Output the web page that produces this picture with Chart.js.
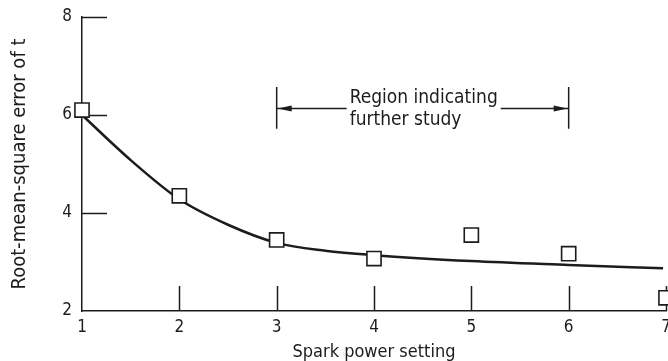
<!DOCTYPE html>
<html>
<head>
<meta charset="utf-8">
<script src="https://cdn.jsdelivr.net/npm/chart.js@4/dist/chart.umd.min.js"></script>
<style>
  html, body { margin: 0; padding: 0; background: #fff; }
  #wrap { width: 668px; height: 361px; }
</style>
</head>
<body>
<div id="wrap"><canvas id="chart"></canvas></div>
<script>
"use strict";

// measured points (open squares)
const SETTINGS = [1, 2, 3, 4, 5, 6, 7];
const RMS_ERROR = [6.1, 4.35, 3.45, 3.07, 3.55, 3.17, 2.27];

// faired curve
const FIT_X = [1, 1.5, 2, 2.5, 3, 3.5, 4, 5, 6, 6.97];
const FIT_Y = [6.0, 5.08, 4.28, 3.76, 3.39, 3.23, 3.14, 3.02, 2.94, 2.87];

const X_TICKS = [1, 2, 3, 4, 5, 6, 7];
const Y_TICKS = [2, 4, 6, 8];

// "region" bracket
const REGION_FROM = 3;
const REGION_TO = 6;
const REGION_AT = 6.15;
const REGION_BAR = [5.72, 6.57];
const REGION_TEXT_X = 3.75;
const REGION_LABEL = ["Region indicating", "further study"];

const X_TITLE = "Spark power setting";
const Y_TITLE = "Root-mean-square error of t";

const INK = "#1c1c1c";
const FONT = "'DejaVu Sans Condensed', 'Liberation Sans Narrow', 'DejaVu Sans', sans-serif";

Chart.defaults.font.family = FONT;
Chart.defaults.color = INK;

// tick marks pointing into the plot
const innerTicks = {
    id: "innerTicks",
    beforeDatasetsDraw(chart) {
        const { ctx, scales: { x, y } } = chart;
        const len = 25;
        ctx.save();
        ctx.strokeStyle = INK;
        ctx.lineWidth = 1.5;
        ctx.beginPath();
        for (const v of X_TICKS.slice(1)) {
            const px = Math.round(x.getPixelForValue(v)) + 0.5;
            ctx.moveTo(px, y.bottom);
            ctx.lineTo(px, y.bottom - len);
        }
        for (const v of Y_TICKS.slice(1)) {
            const py = Math.round(y.getPixelForValue(v)) + 0.5;
            ctx.moveTo(x.left, py);
            ctx.lineTo(x.left + len, py);
        }
        ctx.stroke();
        ctx.restore();
    }
};

function arrowHead(ctx, tipX, tipY, dir) {
    ctx.beginPath();
    ctx.moveTo(tipX, tipY);
    ctx.lineTo(tipX - dir * 14, tipY - 3);
    ctx.lineTo(tipX - dir * 14, tipY + 3);
    ctx.closePath();
    ctx.fill();
}

const regionNote = {
    id: "regionNote",
    afterDraw(chart) {
        const { ctx, scales: { x, y } } = chart;
        const x0 = x.getPixelForValue(REGION_FROM);
        const x1 = x.getPixelForValue(REGION_TO);
        const ay = Math.round(y.getPixelForValue(REGION_AT)) + 0.5;
        const b0 = y.getPixelForValue(REGION_BAR[0]);
        const b1 = y.getPixelForValue(REGION_BAR[1]);
        const tx = x.getPixelForValue(REGION_TEXT_X);

        ctx.save();
        ctx.strokeStyle = INK;
        ctx.fillStyle = INK;
        ctx.lineWidth = 1.5;
        ctx.font = "19px " + FONT;
        ctx.textBaseline = "alphabetic";
        ctx.fillText(REGION_LABEL[0], tx, ay - 6);
        ctx.fillText(REGION_LABEL[1], tx, ay + 16);
        const textRight = tx + ctx.measureText(REGION_LABEL[0]).width;

        ctx.beginPath();
        ctx.moveTo(x0, b0); ctx.lineTo(x0, b1);
        ctx.moveTo(x1, b0); ctx.lineTo(x1, b1);
        ctx.moveTo(x0, ay); ctx.lineTo(tx - 3, ay);
        ctx.moveTo(textRight + 3, ay); ctx.lineTo(x1, ay);
        ctx.stroke();
        arrowHead(ctx, x0 + 1, ay, -1);
        arrowHead(ctx, x1 - 1, ay, 1);
        ctx.restore();
    }
};

new Chart(document.getElementById("chart"), {
    type: "line",
    data: {
        datasets: [
            {
                label: "fit",
                data: FIT_X.map((v, i) => ({ x: v, y: FIT_Y[i] })),
                borderColor: INK,
                borderWidth: 2.5,
                pointRadius: 0,
                cubicInterpolationMode: "monotone",
                fill: false,
                order: 2
            },
            {
                label: "measured",
                data: SETTINGS.map((v, i) => ({ x: v, y: RMS_ERROR[i] })),
                showLine: false,
                pointStyle: "rect",
                pointRadius: 10,
                pointBorderWidth: 1.6,
                pointBorderColor: INK,
                pointBackgroundColor: "#fff",
                clip: false,
                order: 1
            }
        ]
    },
    options: {
        responsive: true,
        maintainAspectRatio: false,
        animation: false,
        events: [],
        layout: { autoPadding: false, padding: { top: 17, right: 2, left: 0, bottom: 0 } },
        plugins: { legend: { display: false }, tooltip: { enabled: false } },
        scales: {
            x: {
                type: "linear",
                min: 1, max: 7,
                afterBuildTicks: s => { s.ticks = X_TICKS.map(v => ({ value: v })); },
                afterFit: s => { s.height = 50; s.paddingLeft = 0; s.paddingRight = 0; },
                grid: { display: false, drawTicks: false },
                border: { display: true, color: INK, width: 1.5 },
                ticks: { padding: 6, font: { size: 17 }, color: INK, maxRotation: 0 },
                title: { display: true, text: X_TITLE, font: { size: 18 }, color: INK,
                         padding: { top: 0, bottom: -2 } }
            },
            y: {
                type: "linear",
                min: 2, max: 8,
                afterBuildTicks: s => { s.ticks = Y_TICKS.map(v => ({ value: v })); },
                afterFit: s => { s.width = 82; s.paddingTop = 0; s.paddingBottom = 0; },
                grid: { display: false, drawTicks: false },
                border: { display: true, color: INK, width: 1.5 },
                ticks: { padding: 10, font: { size: 17 }, color: INK },
                title: { display: true, text: Y_TITLE, font: { size: 20 }, color: INK,
                         padding: { top: 8, bottom: 0 } }
            }
        }
    },
    plugins: [innerTicks, regionNote]
});
</script>
</body>
</html>
